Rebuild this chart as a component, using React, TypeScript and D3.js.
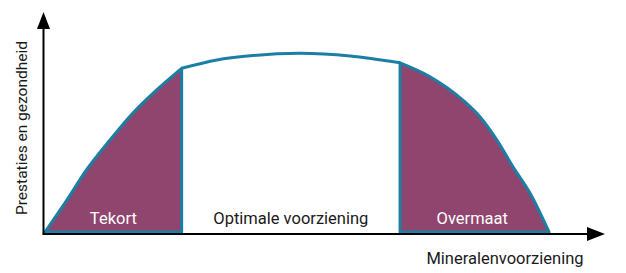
import React from "react";
import * as d3 from "d3";

// Conceptual curve: mineral supply (x) vs performance & health (y)
const leftX = [0, 3.9, 7.4, 11.6, 15.7, 19.9, 24.4];
const leftY = [0, 14.5, 28.2, 41.8, 54.1, 64.5, 74.4];
const topX = [24.4, 30.7, 36.6, 45.5, 54.5, 63.4];
const topY = [74.4, 78.2, 80.1, 81.2, 80.0, 76.9];
const rightX = [63.4, 68.75, 74.6, 77.7, 80.7, 83.6, 86.6, 90];
const rightY = [76.9, 70.6, 60, 52.3, 41.8, 29.5, 17.7, 0];
const zoneLabels = ["Tekort", "Optimale voorziening", "Overmaat"];
const axisLabels = ["Mineralenvoorziening", "Prestaties en gezondheid"];

const W = 626;
const H = 273;
const PURPLE = "#8F456E";
const TEAL = "#1B7FA5";
const FONT = "Roboto, 'Open Sans', sans-serif";

export default function App() {
  const x = d3.scaleLinear().domain([0, 100]).range([45, 605]);
  const y = d3.scaleLinear().domain([0, 100]).range([232, 12]);
  const toPts = (xs: number[], ys: number[]) => xs.map((v, i) => [v, ys[i]] as [number, number]);
  const left = toPts(leftX, leftY);
  const top = toPts(topX, topY);
  const right = toPts(rightX, rightY);

  const line = d3
    .line<[number, number]>()
    .x((d) => x(d[0]))
    .y((d) => y(d[1]))
    .curve(d3.curveMonotoneX);

  const area = d3
    .area<[number, number]>()
    .x((d) => x(d[0]))
    .y0(y(0))
    .y1((d) => y(d[1]))
    .curve(d3.curveMonotoneX);

  const axisY = 234;
  const axisX = 43.5;

  return (
    <svg width={W} height={H} style={{ position: "absolute", left: 0, top: 0 }}>
      <rect width={W} height={H} fill="#fff" />
      {/* purple zones */}
      <path d={area(left) || ""} fill={PURPLE} stroke={TEAL} strokeWidth={3} strokeLinejoin="round" />
      <path d={area(right) || ""} fill={PURPLE} stroke={TEAL} strokeWidth={3} strokeLinejoin="round" />
      {/* top curve */}
      <path d={line(top) || ""} fill="none" stroke={TEAL} strokeWidth={3} />
      {/* axes */}
      <line x1={axisX} y1={axisY} x2={axisX} y2={24} stroke="#000" strokeWidth={2} />
      <path d={`M${axisX},${12} L${axisX - 6.5},${29} L${axisX + 6.5},${29} Z`} fill="#000" />
      <line x1={axisX - 1} y1={axisY} x2={592} y2={axisY} stroke="#000" strokeWidth={2} />
      <path d={`M605,${axisY} L587,${axisY - 7} L587,${axisY + 7} Z`} fill="#000" />
      {/* zone labels */}
      <text x={x(12.2)} y={224} fill="#fff" fontSize={16.5} fontFamily={FONT} textAnchor="middle">
        {zoneLabels[0]}
      </text>
      <text x={x(43.9)} y={224} fill="#1a1a1a" fontSize={16.5} fontFamily={FONT} textAnchor="middle">
        {zoneLabels[1]}
      </text>
      <text x={x(76.3)} y={224} fill="#fff" fontSize={16.5} fontFamily={FONT} textAnchor="middle">
        {zoneLabels[2]}
      </text>
      {/* axis labels */}
      <text x={505} y={264} fill="#1a1a1a" fontSize={16.5} fontFamily={FONT} textAnchor="middle">
        {axisLabels[0]}
      </text>
      <text
        transform={`translate(27,128) rotate(-90)`}
        fill="#1a1a1a"
        fontSize={15.5}
        fontFamily={FONT}
        textAnchor="middle"
      >
        {axisLabels[1]}
      </text>
    </svg>
  );
}
